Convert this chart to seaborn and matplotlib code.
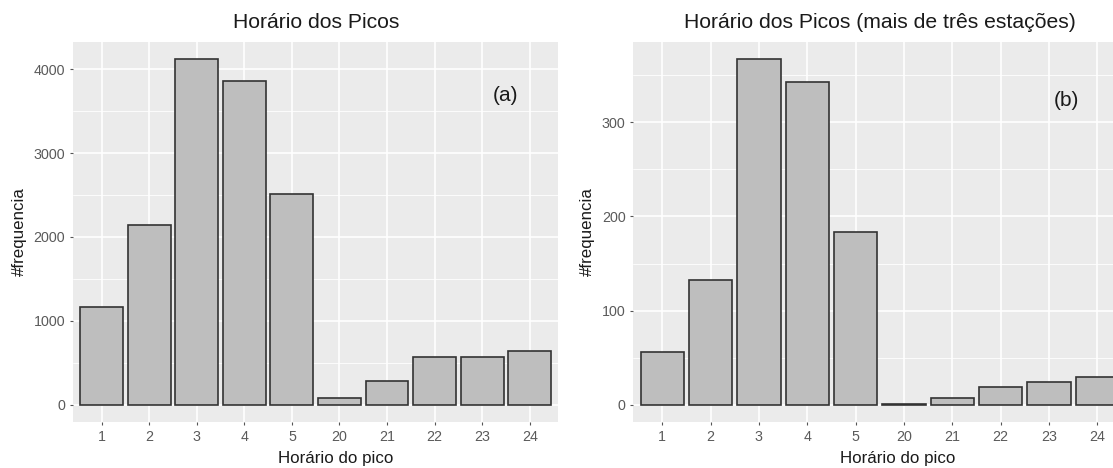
import matplotlib
matplotlib.use("Agg")
import matplotlib.pyplot as plt
from matplotlib.ticker import MultipleLocator
import seaborn as sns
import pandas as pd

# ---- data ----
hours = ["1", "2", "3", "4", "5", "20", "21", "22", "23", "24"]
freq_all = [1165, 2146, 4119, 3861, 2518, 83, 281, 574, 574, 640]
freq_3plus = [56, 132, 367, 343, 184, 1, 7, 19, 24, 29]

title_a = "Horário dos Picos"
title_b = "Horário dos Picos (mais de três estações)"
xlabel = "Horário do pico"
ylabel = "#frequencia"
yticks_a = [0, 1000, 2000, 3000, 4000]
yticks_b = [0, 100, 200, 300]

sns.set_theme(style="darkgrid")
plt.rcParams["font.family"] = ["Liberation Sans", "DejaVu Sans"]

W, H = 1113, 468
fig = plt.figure(figsize=(W / 100, H / 100), dpi=100)
fig.patch.set_facecolor("white")

def px_axes(x0, x1, ytop, ybot):
    return fig.add_axes([x0 / W, 1 - ybot / H, (x1 - x0) / W, (ybot - ytop) / H])

ax_a = px_axes(73, 558.4, 42, 422)
ax_b = px_axes(633.3, 1126.3, 42, 422)

panels = [
    (ax_a, freq_all, yticks_a, 500, title_a, "(a)", (0.892, 0.858), 316, 336, 19),
    (ax_b, freq_3plus, yticks_b, 50, title_b, "(b)", (0.878, 0.845), 880, 898, 587),
]

for ax, vals, yt, minor, title, tag, tagpos, tcx, xlcx, ylcx in panels:
    df = pd.DataFrame({"hora": hours, "freq": vals})
    sns.barplot(data=df, x="hora", y="freq", ax=ax, order=hours,
                color="#BEBEBE", saturation=1, edgecolor="#333333",
                linewidth=1.2, width=0.9, zorder=3)
    ax.set_facecolor("#EBEBEB")
    for s in ax.spines.values():
        s.set_visible(False)
    m = max(vals)
    ax.set_ylim(-0.05 * m, 1.05 * m)
    ax.set_xlim(-0.6, len(hours) - 0.4)
    ax.set_yticks(yt)
    ax.yaxis.set_minor_locator(MultipleLocator(minor))
    ax.grid(which="major", color="white", linewidth=1.2, zorder=0)
    ax.grid(which="minor", axis="y", color="white", linewidth=0.6, zorder=0)
    ax.set_axisbelow(True)
    ax.tick_params(which="major", length=2.5, width=0.8, color="#555555",
                   labelsize=10.3, labelcolor="#5a5a5a", pad=3,
                   bottom=True, left=True)
    ax.tick_params(which="minor", length=0)
    ax.set_xlabel("")
    ax.set_ylabel("")
    ax.text(tagpos[0], tagpos[1], tag, transform=ax.transAxes, ha="center",
            va="center", fontsize=15, color="#1a1a1a")
    fig.text(tcx / W, 1 - 22 / H, title, ha="center", va="center",
             fontsize=15.2, color="#1a1a1a")
    fig.text(xlcx / W, 1 - 458 / H, xlabel, ha="center", va="center",
             fontsize=12.2, color="#1a1a1a")
    fig.text(ylcx / W, 1 - 232 / H, ylabel, ha="center", va="center",
             rotation=90, fontsize=12.2, color="#1a1a1a")

fig.savefig("out.png", dpi=100)
